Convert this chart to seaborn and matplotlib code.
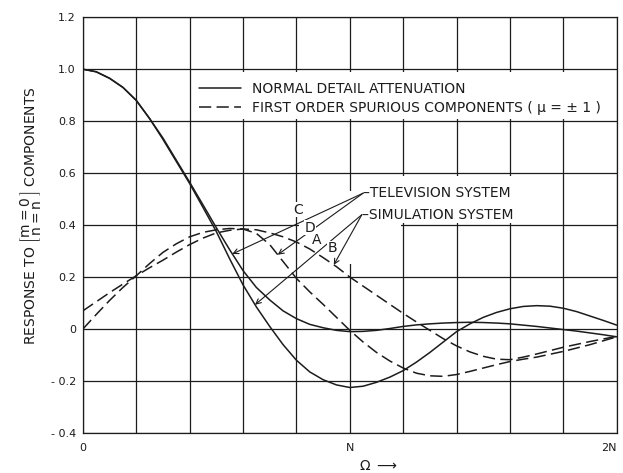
import numpy as np
import matplotlib.pyplot as plt
from matplotlib.lines import Line2D
from matplotlib.patches import Rectangle
import seaborn as sns

# Omega, in units of N
omega = [0.0, 0.05, 0.1, 0.15, 0.2, 0.25, 0.3, 0.35, 0.4, 0.45, 0.5,
         0.55, 0.6, 0.65, 0.7, 0.75, 0.8, 0.85, 0.9, 0.95, 1.0,
         1.05, 1.1, 1.15, 1.2, 1.25, 1.3, 1.35, 1.4, 1.45, 1.5,
         1.55, 1.6, 1.65, 1.7, 1.75, 1.8, 1.85, 1.9, 1.95, 2.0]

# normal detail attenuation (solid)
tv_normal = [1.0, 0.99, 0.965, 0.93, 0.88, 0.81, 0.735, 0.65, 0.565, 0.478, 0.39,
             0.305, 0.225, 0.16, 0.112, 0.07, 0.04, 0.018, 0.005, -0.005, -0.01,
             -0.009, -0.005, 0.002, 0.01, 0.016, 0.02, 0.023, 0.025, 0.026, 0.025,
             0.023, 0.02, 0.015, 0.01, 0.004, -0.002, -0.008, -0.015, -0.022, -0.03]
sim_normal = [1.0, 0.99, 0.965, 0.93, 0.88, 0.81, 0.73, 0.645, 0.56, 0.468, 0.375,
              0.27, 0.17, 0.085, 0.01, -0.06, -0.12, -0.165, -0.195, -0.215, -0.225,
              -0.22, -0.205, -0.185, -0.16, -0.127, -0.09, -0.05, -0.01, 0.02, 0.045,
              0.064, 0.078, 0.087, 0.09, 0.088, 0.08, 0.067, 0.05, 0.033, 0.015]

# first order spurious components (dashed)
tv_spurious = [0.0, 0.056, 0.11, 0.16, 0.205, 0.252, 0.295, 0.328, 0.355, 0.372, 0.382,
               0.387, 0.385, 0.368, 0.325, 0.26, 0.195, 0.143, 0.095, 0.045, -0.005,
               -0.05, -0.09, -0.123, -0.15, -0.17, -0.18, -0.182, -0.175, -0.163, -0.15,
               -0.137, -0.125, -0.116, -0.108, -0.097, -0.086, -0.073, -0.06, -0.045, -0.03]
sim_spurious = [0.07, 0.105, 0.14, 0.173, 0.205, 0.236, 0.265, 0.296, 0.325, 0.35, 0.37,
                0.38, 0.385, 0.382, 0.37, 0.355, 0.335, 0.308, 0.275, 0.24, 0.2,
                0.165, 0.13, 0.095, 0.06, 0.027, -0.005, -0.037, -0.065, -0.088, -0.105,
                -0.116, -0.118, -0.108, -0.096, -0.083, -0.07, -0.059, -0.048, -0.038, -0.028]

x_ticks = [0.0, 0.2, 0.4, 0.6, 0.8, 1.0, 1.2, 1.4, 1.6, 1.8, 2.0]
x_tick_labels = ["0", "", "", "", "", "N", "", "", "", "", "2N"]
y_ticks = [-0.4, -0.2, 0.0, 0.2, 0.4, 0.6, 0.8, 1.0, 1.2]
y_tick_labels = ["- 0.4", "- 0.2", "0", "0.2", "0.4", "0.6", "0.8", "1.0", "1.2"]

legend_labels = ["NORMAL DETAIL ATTENUATION",
                 "FIRST ORDER SPURIOUS COMPONENTS ( \u03bc = \u00b1 1 )"]

ink = "#1c1c1c"
dash = (0, (8, 3.5))

sns.set_theme(style="whitegrid", rc={
    "axes.edgecolor": ink,
    "grid.color": ink,
    "grid.linewidth": 0.9,
    "axes.linewidth": 0.9,
    "text.color": ink,
    "xtick.color": ink,
    "ytick.color": ink,
})
plt.rcParams["font.family"] = ["DejaVu Sans"]
fs = 10       # lettering
fs_tick = 8

fig = plt.figure(figsize=(6.23, 4.73), dpi=100)
ax = fig.add_axes([0.133, 0.0846, 0.857, 0.879])

sns.lineplot(x=omega, y=tv_normal, ax=ax, color=ink, lw=1.1, zorder=3)
sns.lineplot(x=omega, y=sim_normal, ax=ax, color=ink, lw=1.1, zorder=3)
sns.lineplot(x=omega, y=tv_spurious, ax=ax, color=ink, lw=1.1, linestyle=dash, zorder=3)
sns.lineplot(x=omega, y=sim_spurious, ax=ax, color=ink, lw=1.1, linestyle=dash, zorder=3)

ax.set_xlim(0, 2)
ax.set_ylim(-0.4, 1.2)
ax.set_xticks(x_ticks)
ax.set_xticklabels(x_tick_labels, fontsize=fs_tick)
ax.get_xticklabels()[-1].set_ha("right")
ax.set_yticks(y_ticks)
ax.set_yticklabels(y_tick_labels, fontsize=fs_tick)
ax.tick_params(axis="both", length=0)
ax.tick_params(axis="x", pad=7)
ax.tick_params(axis="y", pad=5)
ax.set_xlabel("")
ax.set_ylabel("")

# blank patches where the lettering sits on the grid
for (x0, y0, w, h) in [(0.41, 0.81, 1.58, 0.18),
                       (1.01, 0.41, 0.78, 0.18),
                       (0.81, 0.25, 0.38, 0.28)]:
    ax.add_patch(Rectangle((x0, y0), w, h, facecolor="white", edgecolor="none", zorder=1))

handles = [Line2D([], [], color=ink, lw=1.1),
           Line2D([], [], color=ink, lw=1.1, linestyle=dash)]
ax.legend(handles, legend_labels, loc="upper left", bbox_to_anchor=(0.435, 0.95),
          bbox_transform=ax.transData, frameon=False, fontsize=fs, handlelength=3.0,
          handletextpad=0.8, labelspacing=0.35, borderpad=0, borderaxespad=0)

# leader lines
tv_origin = (1.05, 0.523)
sim_origin = (1.045, 0.44)
ax.text(tv_origin[0], tv_origin[1], "\u2013TELEVISION SYSTEM", fontsize=fs, va="center", ha="left", zorder=4)
ax.text(sim_origin[0], sim_origin[1], "\u2013SIMULATION SYSTEM", fontsize=fs, va="center", ha="left", zorder=4)

arrow = dict(arrowstyle="->", color=ink, lw=0.8, shrinkA=0, shrinkB=0, mutation_scale=9)
targets = [(tv_origin, 0.56, tv_normal), (tv_origin, 0.73, tv_spurious),
           (sim_origin, 0.645, sim_normal), (sim_origin, 0.94, sim_spurious)]
for origin, xt, curve in targets:
    ax.annotate("", xy=(xt, np.interp(xt, omega, curve)), xytext=origin, arrowprops=arrow, zorder=4)

for lab, (lx, ly) in zip(["C", "D", "A", "B"], [(0.805, 0.46), (0.85, 0.39), (0.876, 0.342), (0.936, 0.31)]):
    ax.text(lx, ly, lab, fontsize=fs, ha="center", va="center", zorder=4,
            bbox=dict(facecolor="white", edgecolor="none", pad=0.5))

fig.text(0.05, 0.545,
         r"RESPONSE TO $\left[\genfrac{}{}{0}{0}{\mathrm{m=0}}{\mathrm{n=n}}\right]$ COMPONENTS",
         rotation=90, ha="center", va="center", fontsize=fs)
fig.text(378 / 623, 1 - 466 / 473, r"$\Omega$ $\longrightarrow$", ha="center", va="center", fontsize=fs)

fig.savefig("out.png", dpi=100)
